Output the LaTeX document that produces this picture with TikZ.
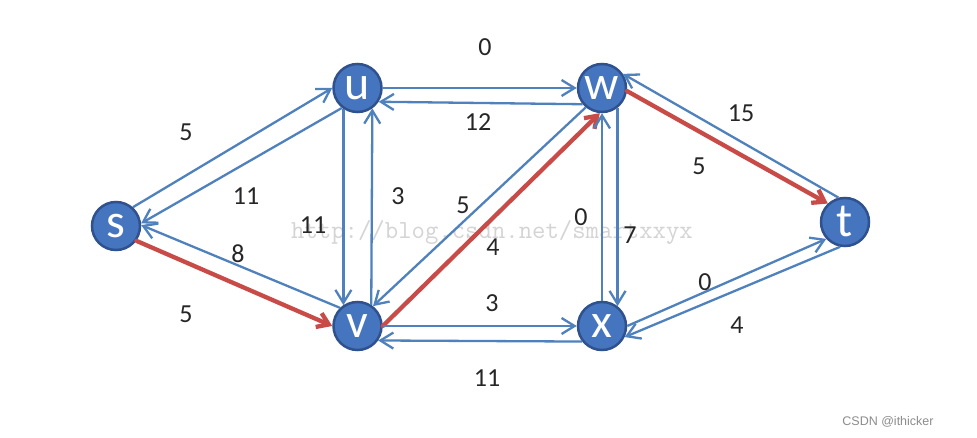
\documentclass[tikz,border=0pt]{standalone}
\usepackage{fontspec}
\setmainfont{Carlito}
\newfontfamily\csdnfont{Liberation Sans}
\usetikzlibrary{arrows.meta}
\definecolor{nodefill}{RGB}{70,117,192}
\definecolor{nodeborder}{RGB}{47,82,143}
\definecolor{edgeblue}{RGB}{79,129,189}
\definecolor{edgered}{RGB}{200,75,72}
\definecolor{wmgray}{RGB}{212,212,212}
\tikzset{
  vert/.style={circle, minimum size=48pt, inner sep=0pt, fill=nodefill, draw=nodeborder,
    line width=2.5pt, text=white, font=\fontsize{48}{48}\selectfont},
  flow/.style={draw=edgeblue, line width=2.3pt, -{Straight Barb[length=13pt,width=16pt]}},
  path/.style={draw=edgered, line width=4.3pt, line cap=round, -{Straight Barb[length=11pt,width=15pt]}},
  lbl/.style={font=\fontsize{26}{26}\selectfont, text=black!85, inner sep=0pt}
}
\begin{document}
\begin{tikzpicture}[x=1pt,y=-1pt]
\useasboundingbox (0,0) rectangle (977,438);
\fill[white] (0,0) rectangle (977,438);
% watermark
\node[font=\ttfamily\fontsize{26}{26}\selectfont, text=wmgray, inner sep=0pt] (wm) at (492,232) {http://blog.csdn.net/smartxxyx};
% vertices
\node[vert] (s) at (116,226) {s};
\node[vert] (u) at (357.5,88) {u};
\node[vert] (w) at (602,88) {w};
\node[vert] (v) at (357.5,326) {v};
\node[vert] (x) at (602,326) {x};
\node[vert] (t) at (845,222) {t};
% edges
\draw[flow] (s.48) -- (u.180);
\draw[flow] (u.232) -- (s.6);
\draw[flow] (v.134) -- (s.2);
\draw[path] (s.-36) -- (v.180);
\draw[flow] (u.236) -- (v.124);
\draw[flow] (v.57) -- (u.306);
\draw[flow] (u.0) -- (w.180);
\draw[flow] (w.220) -- (u.327);
\draw[flow] (w.230) -- (v.52);
\draw[path] (v.0) -- (w.265);
\draw[flow] (v.0) -- (x.180);
\draw[flow] (x.218) -- (v.325);
\draw[flow] (x.90) -- (w.270);
\draw[flow] (w.308) -- (x.52);
\draw[flow] (t.105) -- (w.34);
\draw[path] (w.-7) -- (t.133);
\draw[flow] (x.0) -- (t.222);
\draw[flow] (t.259) -- (x.334);
% labels
\node[lbl] (l1) at (186,132) {5};
\node[lbl] (l2) at (246,196) {11};
\node[lbl] (l3) at (238,254) {8};
\node[lbl] (l4) at (186,314) {5};
\node[lbl] (l5) at (313,225) {11};
\node[lbl] (l6) at (398,196) {3};
\node[lbl] (l7) at (485,47) {0};
\node[lbl] (l8) at (478,122) {12};
\node[lbl] (l9) at (463,205) {5};
\node[lbl] (l10) at (493,247) {4};
\node[lbl] (l11) at (492,303) {3};
\node[lbl] (l12) at (487,378) {11};
\node[lbl] (l13) at (581,217) {0};
\node[lbl] (l14) at (630,235) {7};
\node[lbl] (l15) at (741,113) {15};
\node[lbl] (l16) at (699,166) {5};
\node[lbl] (l17) at (705,282) {0};
\node[lbl] (l18) at (737,325) {4};
% credit
\node[font=\csdnfont\fontsize{12.5}{12.5}\selectfont, text=black!45, inner sep=0pt] (credit) at (888,422) {CSDN @ithicker};
\end{tikzpicture}
\end{document}
